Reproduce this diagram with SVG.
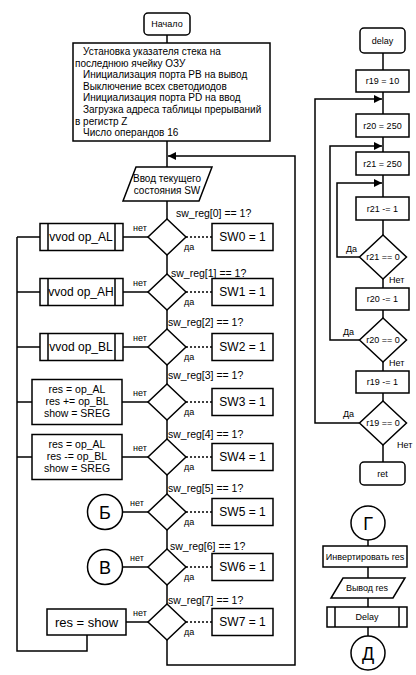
<svg xmlns="http://www.w3.org/2000/svg" width="416" height="675" viewBox="0 0 416 675">
<defs>
<style>
.s{fill:#fff;stroke:#000;stroke-width:1.5}
.l{fill:none;stroke:#000;stroke-width:1.5}
.d{fill:none;stroke:#000;stroke-width:1.5;stroke-dasharray:2 2}
text{font-family:"Liberation Sans",Arial,sans-serif;fill:#000}
.t9{font-size:9px}
.t10{font-size:10px}
.t105{font-size:10.5px}
.t12{font-size:12px}
.t13{font-size:13px}
.t18{font-size:18px}
.c{text-anchor:middle}
</style>
<marker id="ah" viewBox="0 0 8 8" refX="8" refY="4" markerWidth="8" markerHeight="8" markerUnits="userSpaceOnUse" orient="auto">
<path d="M0,0 L8,4 L0,8 z" fill="#000"/>
</marker>
</defs>
<rect width="416" height="675" fill="#fff"/>

<g id="connectors">
<line class="l" x1="167" y1="35" x2="167" y2="43"/>
<line class="l" x1="167" y1="141" x2="167" y2="167"/>
<line class="l" x1="167" y1="201" x2="167" y2="219"/>
<line class="l" x1="167" y1="255" x2="167" y2="274"/>
<line class="l" x1="167" y1="310" x2="167" y2="329"/>
<line class="l" x1="167" y1="365" x2="167" y2="384"/>
<line class="l" x1="167" y1="420" x2="167" y2="439"/>
<line class="l" x1="167" y1="475" x2="167" y2="494"/>
<line class="l" x1="167" y1="530" x2="167" y2="549"/>
<line class="l" x1="167" y1="585" x2="167" y2="604"/>
<polyline class="l" points="167,640 167,665 295,665 295,156 168,156" marker-end="url(#ah)"/>
<line class="d" x1="186" y1="237" x2="212" y2="237"/>
<line class="d" x1="186" y1="292" x2="212" y2="292"/>
<line class="d" x1="186" y1="347" x2="212" y2="347"/>
<line class="d" x1="186" y1="402" x2="212" y2="402"/>
<line class="d" x1="186" y1="457" x2="212" y2="457"/>
<line class="d" x1="186" y1="512" x2="212" y2="512"/>
<line class="d" x1="186" y1="567" x2="212" y2="567"/>
<line class="d" x1="186" y1="622" x2="212" y2="622"/>
<line class="l" x1="123" y1="237" x2="148" y2="237"/>
<line class="l" x1="123" y1="292" x2="148" y2="292"/>
<line class="l" x1="123" y1="347" x2="148" y2="347"/>
<line class="l" x1="122" y1="402" x2="148" y2="402"/>
<line class="l" x1="122" y1="457" x2="148" y2="457"/>
<line class="l" x1="122.5" y1="512" x2="148" y2="512"/>
<line class="l" x1="122.5" y1="567" x2="148" y2="567"/>
<line class="l" x1="126" y1="622" x2="148" y2="622"/>
<line class="l" x1="17" y1="237" x2="40" y2="237"/>
<line class="l" x1="17" y1="292" x2="40" y2="292"/>
<line class="l" x1="17" y1="347" x2="40" y2="347"/>
<line class="l" x1="17" y1="402" x2="32" y2="402"/>
<line class="l" x1="17" y1="457" x2="32" y2="457"/>
<polyline class="l" points="87,635 87,651 17,651 17,237"/>

<line class="l" x1="383" y1="53" x2="383" y2="70"/>
<line class="l" x1="383" y1="92" x2="383" y2="114"/>
<line class="l" x1="383" y1="137" x2="383" y2="152"/>
<line class="l" x1="383" y1="175" x2="383" y2="197"/>
<line class="l" x1="383" y1="220" x2="383" y2="235"/>
<line class="l" x1="383" y1="279" x2="383" y2="288"/>
<line class="l" x1="383" y1="310" x2="383" y2="318"/>
<line class="l" x1="383" y1="362" x2="383" y2="371"/>
<line class="l" x1="383" y1="393" x2="383" y2="401"/>
<line class="l" x1="383" y1="445" x2="383" y2="462"/>
<polyline class="l" points="359.5,257 337,257 337,183 382,183" marker-end="url(#ah)"/>
<polyline class="l" points="359.5,340 330,340 330,146 382,146" marker-end="url(#ah)"/>
<polyline class="l" points="359.5,423 315,423 315,99 382,99" marker-end="url(#ah)"/>

<line class="l" x1="368" y1="540" x2="368" y2="546"/>
<line class="l" x1="368" y1="567" x2="368" y2="578"/>
<line class="l" x1="368" y1="598" x2="368" y2="607"/>
<line class="l" x1="368" y1="627" x2="368" y2="636"/>
</g>

<g id="start">
<rect class="s" x="144" y="13" width="46" height="22" rx="4"/>
<text class="t9 c" x="167" y="27">Начало</text>
</g>

<g id="init">
<rect class="s" x="73" y="43" width="197" height="98"/>
<text class="t10" x="83" y="55.2">Установка указателя стека на</text>
<text class="t10" x="75" y="66.8">последнюю ячейку ОЗУ</text>
<text class="t10" x="83" y="78.3">Инициализация порта PB на вывод</text>
<text class="t10" x="83" y="89.9">Выключение всех светодиодов</text>
<text class="t10" x="83" y="101.4">Инициализация порта PD на ввод</text>
<text class="t10" x="83" y="113">Загрузка адреса таблицы прерываний</text>
<text class="t10" x="75" y="124.5">в регистр Z</text>
<text class="t10" x="83" y="136.1">Число операндов 16</text>
</g>

<g id="input-sw">
<polygon class="s" points="136,167 212,167 199,201 123,201"/>
<text class="t10 c" x="167" y="182">Ввод текущего</text>
<text class="t10 c" x="167" y="193.5">состояния SW</text>
</g>

<g id="dec0">
<polygon class="s" points="167,219 186,237 167,255 148,237"/>
<text class="t105" x="176" y="216.7">sw_reg[0] == 1?</text>
<text class="t9" x="133" y="231">нет</text>
<text class="t9" x="184" y="250">да</text>
</g>
<g id="dec1">
<polygon class="s" points="167,274 186,292 167,310 148,292"/>
<text class="t105" x="171" y="276.5">sw_reg[1] == 1?</text>
<text class="t9" x="133" y="286">нет</text>
<text class="t9" x="184" y="305">да</text>
</g>
<g id="dec2">
<polygon class="s" points="167,329 186,347 167,365 148,347"/>
<text class="t105" x="168" y="325.5">sw_reg[2] == 1?</text>
<text class="t9" x="133" y="341">нет</text>
<text class="t9" x="184" y="360">да</text>
</g>
<g id="dec3">
<polygon class="s" points="167,384 186,402 167,420 148,402"/>
<text class="t105" x="168" y="378.7">sw_reg[3] == 1?</text>
<text class="t9" x="133" y="396">нет</text>
<text class="t9" x="184" y="415">да</text>
</g>
<g id="dec4">
<polygon class="s" points="167,439 186,457 167,475 148,457"/>
<text class="t105" x="168" y="437.7">sw_reg[4] == 1?</text>
<text class="t9" x="133" y="451">нет</text>
<text class="t9" x="184" y="470">да</text>
</g>
<g id="dec5">
<polygon class="s" points="167,494 186,512 167,530 148,512"/>
<text class="t105" x="168" y="491.7">sw_reg[5] == 1?</text>
<text class="t9" x="130" y="506">нет</text>
<text class="t9" x="184" y="525">да</text>
</g>
<g id="dec6">
<polygon class="s" points="167,549 186,567 167,585 148,567"/>
<text class="t105" x="170" y="549.7">sw_reg[6] == 1?</text>
<text class="t9" x="130" y="561">нет</text>
<text class="t9" x="184" y="580">да</text>
</g>
<g id="dec7">
<polygon class="s" points="167,604 186,622 167,640 148,622"/>
<text class="t105" x="168" y="603.7">sw_reg[7] == 1?</text>
<text class="t9" x="133" y="616">нет</text>
<text class="t9" x="184" y="635">да</text>
</g>

<g id="sw0"><rect class="s" x="212" y="223.5" width="61" height="27"/><text class="t12 c" x="242.5" y="241.2">SW0 = 1</text></g>
<g id="sw1"><rect class="s" x="212" y="278.5" width="61" height="27"/><text class="t12 c" x="242.5" y="296.2">SW1 = 1</text></g>
<g id="sw2"><rect class="s" x="212" y="333.5" width="61" height="27"/><text class="t12 c" x="242.5" y="351.2">SW2 = 1</text></g>
<g id="sw3"><rect class="s" x="212" y="388.5" width="61" height="27"/><text class="t12 c" x="242.5" y="406.2">SW3 = 1</text></g>
<g id="sw4"><rect class="s" x="212" y="443.5" width="61" height="27"/><text class="t12 c" x="242.5" y="461.2">SW4 = 1</text></g>
<g id="sw5"><rect class="s" x="212" y="498.5" width="61" height="27"/><text class="t12 c" x="242.5" y="516.2">SW5 = 1</text></g>
<g id="sw6"><rect class="s" x="212" y="553.5" width="61" height="27"/><text class="t12 c" x="242.5" y="571.2">SW6 = 1</text></g>
<g id="sw7"><rect class="s" x="212" y="608.5" width="61" height="27"/><text class="t12 c" x="242.5" y="626.2">SW7 = 1</text></g>

<g id="vvod-al">
<rect class="s" x="40" y="223.5" width="83" height="27"/>
<line class="l" x1="48" y1="223.5" x2="48" y2="250.5"/><line class="l" x1="115" y1="223.5" x2="115" y2="250.5"/>
<text class="t12 c" x="81" y="241.2">vvod op_AL</text>
</g>
<g id="vvod-ah">
<rect class="s" x="40" y="278.5" width="83" height="27"/>
<line class="l" x1="48" y1="278.5" x2="48" y2="305.5"/><line class="l" x1="115" y1="278.5" x2="115" y2="305.5"/>
<text class="t12 c" x="81" y="296.2">vvod op_AH</text>
</g>
<g id="vvod-bl">
<rect class="s" x="40" y="333.5" width="83" height="27"/>
<line class="l" x1="48" y1="333.5" x2="48" y2="360.5"/><line class="l" x1="115" y1="333.5" x2="115" y2="360.5"/>
<text class="t12 c" x="81" y="351.2">vvod op_BL</text>
</g>
<g id="add">
<rect class="s" x="32" y="379.5" width="90" height="45"/>
<text class="t105 c" x="77" y="392.7">res = op_AL</text>
<text class="t105 c" x="77" y="405">res += op_BL</text>
<text class="t105 c" x="77" y="417.3">show = SREG</text>
</g>
<g id="sub">
<rect class="s" x="32" y="434.5" width="90" height="45"/>
<text class="t105 c" x="77" y="447.7">res = op_AL</text>
<text class="t105 c" x="77" y="460">res -= op_BL</text>
<text class="t105 c" x="77" y="472.3">show = SREG</text>
</g>
<g id="conn-b">
<circle class="s" cx="105" cy="512" r="17.5"/>
<text class="t18 c" x="105" y="518.5">Б</text>
</g>
<g id="conn-v">
<circle class="s" cx="105" cy="567" r="17.5"/>
<text class="t18 c" x="105" y="573.5">В</text>
</g>
<g id="res-show">
<rect class="s" x="47" y="609" width="79" height="26"/>
<text class="t13 c" x="86.5" y="626.5">res = show</text>
</g>

<g id="delay">
<rect class="s" x="360" y="28" width="45" height="25" rx="4"/>
<text class="t9 c" x="382.5" y="43.5">delay</text>
</g>
<g id="r19-10">
<rect class="s" x="356" y="70" width="53" height="22"/>
<text class="t9 c" x="382.5" y="84.2">r19 = 10</text>
</g>
<g id="r20-250">
<rect class="s" x="356" y="114" width="53" height="23"/>
<text class="t9 c" x="382.5" y="128.7">r20 = 250</text>
</g>
<g id="r21-250">
<rect class="s" x="356" y="152" width="53" height="23"/>
<text class="t9 c" x="382.5" y="166.7">r21 = 250</text>
</g>
<g id="r21-dec">
<rect class="s" x="356" y="197" width="53" height="23"/>
<text class="t9 c" x="382.5" y="211.7">r21 -= 1</text>
</g>
<g id="r21-test">
<polygon class="s" points="383,235 406.5,257 383,279 359.5,257"/>
<text class="t9 c" x="383" y="260.2">r21 == 0</text>
<text class="t9" x="346" y="252.2">Да</text>
<text class="t9" x="389" y="283.2">Нет</text>
</g>
<g id="r20-dec">
<rect class="s" x="356" y="288" width="53" height="22"/>
<text class="t9 c" x="382.5" y="302.2">r20 -= 1</text>
</g>
<g id="r20-test">
<polygon class="s" points="383,318 406.5,340 383,362 359.5,340"/>
<text class="t9 c" x="383" y="343.2">r20 == 0</text>
<text class="t9" x="343" y="335.2">Да</text>
<text class="t9" x="389" y="366.2">Нет</text>
</g>
<g id="r19-dec">
<rect class="s" x="356" y="371" width="53" height="22"/>
<text class="t9 c" x="382.5" y="385.2">r19 -= 1</text>
</g>
<g id="r19-test">
<polygon class="s" points="383,401 406.5,423 383,445 359.5,423"/>
<text class="t9 c" x="383" y="426.2">r19 == 0</text>
<text class="t9" x="343" y="417.2">Да</text>
<text class="t9" x="397" y="448.2">Нет</text>
</g>
<g id="ret">
<rect class="s" x="360" y="462" width="45" height="23" rx="4"/>
<text class="t9 c" x="382.5" y="476.7">ret</text>
</g>

<g id="conn-g">
<circle class="s" cx="368" cy="523" r="17"/>
<text class="t18 c" x="368" y="529.5">Г</text>
</g>
<g id="invert">
<rect class="s" x="323" y="546" width="84" height="21"/>
<text class="t9 c" x="365" y="559.7">Инвертировать res</text>
</g>
<g id="output">
<polygon class="s" points="343,578 405,578 393,598 331,598"/>
<text class="t9 c" x="367" y="591.2">Вывод res</text>
</g>
<g id="delay-call">
<rect class="s" x="327" y="607" width="80" height="20"/>
<line class="l" x1="335" y1="607" x2="335" y2="627"/><line class="l" x1="399" y1="607" x2="399" y2="627"/>
<text class="t9 c" x="367" y="620.2">Delay</text>
</g>
<g id="conn-d">
<circle class="s" cx="368" cy="653" r="17"/>
<text class="t18 c" x="368" y="659.5">Д</text>
</g>
</svg>
